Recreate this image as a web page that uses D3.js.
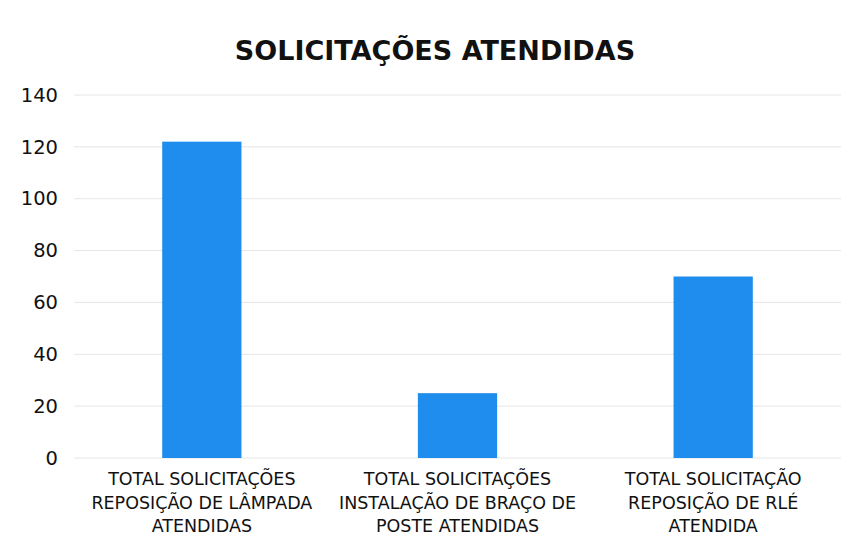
<!DOCTYPE html>
<html>
<head>
<meta charset="utf-8">
<script src="https://cdn.jsdelivr.net/npm/d3@7"></script>
<style>
  body { margin: 0; background: #fff; }
  svg text { font-family: "DejaVu Sans", Verdana, sans-serif; fill: #111; }
</style>
</head>
<body>
<svg id="chart" width="858" height="542"></svg>
<script>
var categories = [
  ['TOTAL SOLICITAÇÕES', 'REPOSIÇÃO DE LÂMPADA', 'ATENDIDAS'],
  ['TOTAL SOLICITAÇÕES', 'INSTALAÇÃO DE BRAÇO DE', 'POSTE ATENDIDAS'],
  ['TOTAL SOLICITAÇÃO', 'REPOSIÇÃO DE RLÉ', 'ATENDIDA']
];
var values = [122, 25, 70];
var yTicks = [0, 20, 40, 60, 80, 100, 120, 140];

var svg = d3.select('#chart');
var padding = { t: 95, r: 17, b: 84, l: 74 };
var chartWidth = 858 - padding.l - padding.r;
var chartHeight = 542 - padding.t - padding.b;

var chartG = svg.append('g')
  .attr('transform', 'translate(' + [padding.l, padding.t] + ')');

var xScale = d3.scaleBand()
  .domain(d3.range(categories.length))
  .range([0, chartWidth])
  .paddingInner(0.69)
  .paddingOuter(0.345);
var yScale = d3.scaleLinear()
  .domain([0, 140])
  .range([chartHeight, 0]);

svg.append('text')
  .attr('x', 435)
  .attr('y', 60)
  .attr('text-anchor', 'middle')
  .style('font-size', '27px')
  .style('font-weight', 'bold')
  .text('SOLICITAÇÕES ATENDIDAS');

// gridlines
chartG.selectAll('.grid')
  .data(yTicks)
  .enter().append('line')
  .attr('x1', 0).attr('x2', chartWidth)
  .attr('y1', d => yScale(d)).attr('y2', d => yScale(d))
  .attr('stroke', '#e6e6e6')
  .attr('stroke-width', 1);

var yAxis = d3.axisLeft(yScale).tickValues(yTicks).tickSize(0).tickPadding(16);
var yAxisG = chartG.append('g').call(yAxis);
yAxisG.select('.domain').remove();
yAxisG.selectAll('text').style('font-size', '19.5px').style('font-family', '"DejaVu Sans", Verdana, sans-serif').attr('fill', '#111');

chartG.selectAll('.bar')
  .data(values)
  .enter().append('rect')
  .attr('class', 'bar')
  .attr('x', (d, i) => xScale(i))
  .attr('width', xScale.bandwidth())
  .attr('y', d => yScale(d))
  .attr('height', d => chartHeight - yScale(d))
  .attr('fill', '#1e8ded');

var labels = chartG.selectAll('.cat')
  .data(categories)
  .enter().append('text')
  .attr('class', 'cat')
  .attr('text-anchor', 'middle')
  .attr('transform', (d, i) => 'translate(' + [xScale(i) + xScale.bandwidth() / 2, chartHeight + 27] + ')')
  .style('font-size', '17.5px');
labels.selectAll('tspan')
  .data(d => d)
  .enter().append('tspan')
  .attr('x', 0)
  .attr('dy', (d, i) => i === 0 ? 0 : 23.5)
  .text(d => d);
</script>
</body>
</html>
